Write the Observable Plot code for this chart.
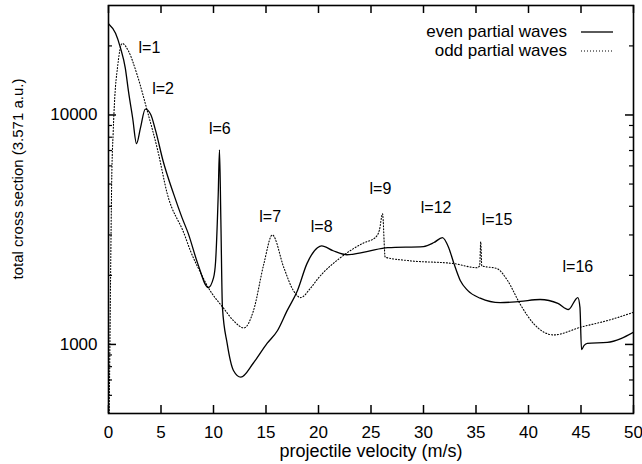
<!DOCTYPE html>
<html>
<head>
<meta charset="utf-8">
<script src="https://cdn.jsdelivr.net/npm/d3@7"></script>
<script src="https://cdn.jsdelivr.net/npm/@observablehq/plot@0.6"></script>
<style>
  html, body { margin: 0; padding: 0; background: #fff; }
  #wrap { position: relative; width: 642px; height: 464px; font-family: "Liberation Sans", Arial, Helvetica, sans-serif; }
  .leg { position: absolute; right: 75px; font-size: 17px; line-height: 20px; color: #000; white-space: nowrap; }
  #legsvg { position: absolute; left: 0; top: 0; pointer-events: none; }
  #ylab { position: absolute; left: 18px; top: 179px; font-size: 15px; line-height: 18px; white-space: nowrap; color: #000;
          transform: translate(-50%, -50%) rotate(-90deg); }
</style>
</head>
<body>
<div id="wrap"></div>
<script>
// ---- data ----
const evenX = [0, 0.67, 1.14, 1.6, 1.9, 2.3, 2.67, 3.05, 3.5, 4.0, 4.5, 5.2, 6.2, 7.0, 7.6, 8.5, 9.5, 10.0, 10.2, 10.45, 10.57, 10.7, 10.85, 11.3, 11.9, 12.6, 13.8, 15.1, 16.1, 17.0, 18.0, 18.9, 19.9, 20.3, 21.4, 22.7, 24.6, 26.6, 30.0, 31.0, 31.8, 32.4, 32.9, 33.5, 34.2, 35.4, 37.3, 39.2, 41.1, 42.8, 43.8, 44.7, 44.9, 45.05, 45.3, 45.6, 47.5, 48.8, 50];
const evenY = [25000, 22700, 19600, 16000, 12700, 9700, 7500, 8800, 10600, 10100, 8500, 6300, 4530, 3570, 3040, 2250, 1770, 1950, 2300, 4500, 7050, 3500, 1450, 1010, 770, 720, 830, 1010, 1150, 1400, 1720, 2250, 2640, 2690, 2560, 2460, 2540, 2640, 2670, 2780, 2920, 2640, 2250, 1900, 1720, 1590, 1520, 1540, 1570, 1510, 1420, 1600, 1450, 950, 990, 1010, 1020, 1060, 1130];

const oddX = [0, 0.1, 0.2, 0.3, 0.45, 0.6, 0.85, 1.3, 1.9, 2.7, 3.7, 4.7, 5.6, 7.2, 7.8, 8.8, 9.5, 11.0, 11.9, 12.9, 13.8, 14.8, 15.6, 16.7, 17.6, 18.3, 19.2, 20.0, 22.1, 24.3, 25.4, 25.8, 26.1, 26.35, 28.5, 32.9, 35.1, 35.35, 35.45, 35.55, 37.0, 38.0, 39.2, 40.5, 42.4, 45.0, 47.5, 50];
const oddY = [300, 700, 2000, 5000, 8500, 12000, 16000, 20500, 19000, 15100, 10400, 6970, 4530, 3040, 2560, 2040, 1770, 1430, 1270, 1180, 1400, 2250, 3000, 2160, 1720, 1600, 1750, 1950, 2390, 2770, 2920, 3150, 3710, 2400, 2320, 2250, 2160, 2200, 2800, 2200, 2140, 1900, 1500, 1230, 1100, 1190, 1270, 1380];

const labelText = ["l=1", "l=2", "l=6", "l=7", "l=8", "l=9", "l=12", "l=15", "l=16"];
const labelX = [3.9, 5.2, 10.6, 15.4, 20.3, 25.9, 31.2, 37.0, 44.7];
const labelY = [19550, 12970, 8690, 3600, 3260, 4770, 3940, 3490, 2180];

const xTicks = [0, 5, 10, 15, 20, 25, 30, 35, 40, 45, 50];
const yMajorTicks = [1000, 10000];
const yMinorTicks = [600, 700, 800, 900, 2000, 3000, 4000, 5000, 6000, 7000, 8000, 9000, 20000];

const seriesNames = ["even partial waves", "odd partial waves"];
const xLabel = "projectile velocity (m/s)";
const yLabel = "total cross section (3.571 a.u.)";

// ---- build tables ----
const even = evenX.map((x, i) => ({x, y: evenY[i]}));
const odd = oddX.map((x, i) => ({x, y: oddY[i]}));
const labels = labelText.map((t, i) => ({t, x: labelX[i], y: labelY[i]}));

const W = 642, H = 464, mL = 108, mR = 9, mT = 5, mB = 51;
const innerW = W - mL - mR, innerH = H - mT - mB;
const majorLen = 8, minorLen = 4;

const chart = Plot.plot({
  width: W, height: H,
  marginLeft: mL, marginRight: mR, marginTop: mT, marginBottom: mB,
  style: { fontFamily: "Liberation Sans, Arial, Helvetica, sans-serif", fontSize: "17px", background: "#fff", color: "#000" },
  x: { domain: [0, 50] },
  y: { type: "log", domain: [500, 30000] },
  marks: [
    Plot.axisX({ ticks: xTicks, tickSize: 0, tickPadding: 12, tickFormat: d => String(d), label: null, fontSize: 17 }),
    Plot.axisY({ ticks: yMajorTicks, tickSize: 0, tickPadding: 11, tickFormat: d => String(d), label: null, fontSize: 17 }),
    // inward ticks, bottom and top
    Plot.tickX(xTicks, { x: d => d, insetTop: innerH - majorLen, strokeWidth: 1.5 }),
    Plot.tickX(xTicks, { x: d => d, insetBottom: innerH - majorLen, strokeWidth: 1.5 }),
    // inward ticks, left and right
    Plot.tickY(yMajorTicks, { y: d => d, insetRight: innerW - majorLen, strokeWidth: 1.5 }),
    Plot.tickY(yMajorTicks, { y: d => d, insetLeft: innerW - majorLen, strokeWidth: 1.5 }),
    Plot.tickY(yMinorTicks, { y: d => d, insetRight: innerW - minorLen, strokeWidth: 1.2 }),
    Plot.tickY(yMinorTicks, { y: d => d, insetLeft: innerW - minorLen, strokeWidth: 1.2 }),
    Plot.line(even, { x: "x", y: "y", curve: "monotone-x", stroke: "#000", strokeWidth: 1.3, clip: true }),
    Plot.line(odd, { x: "x", y: "y", curve: "monotone-x", stroke: "#000", strokeWidth: 1.1, strokeDasharray: "1,2", clip: true }),
    Plot.frame({ stroke: "#000", strokeWidth: 1.6 }),
    Plot.text(labels, { x: "x", y: "y", text: "t", fontSize: 16, textAnchor: "middle", lineAnchor: "middle", fill: "#000" }),
    Plot.text([xLabel], { frameAnchor: "bottom", text: d => d, dy: 38, fontSize: 18, lineAnchor: "middle", fill: "#000" })
  ]
});

const wrap = document.getElementById("wrap");
wrap.appendChild(chart);

// y-axis title (rotated)
const yl = document.createElement("div");
yl.id = "ylab";
yl.textContent = yLabel;
wrap.appendChild(yl);

// legend (top-right, inside the frame)
const rowY = [32, 51];
const dashes = [null, "1,2"];
seriesNames.forEach((name, i) => {
  const d = document.createElement("div");
  d.className = "leg";
  d.style.top = (rowY[i] - 10) + "px";
  d.textContent = name;
  wrap.appendChild(d);
});
const ns = "http://www.w3.org/2000/svg";
const ls = document.createElementNS(ns, "svg");
ls.setAttribute("id", "legsvg");
ls.setAttribute("width", W);
ls.setAttribute("height", 80);
seriesNames.forEach((name, i) => {
  const l = document.createElementNS(ns, "line");
  l.setAttribute("x1", 581); l.setAttribute("x2", 613);
  l.setAttribute("y1", rowY[i]); l.setAttribute("y2", rowY[i]);
  l.setAttribute("stroke", "#000");
  l.setAttribute("stroke-width", i === 0 ? 1.3 : 1.1);
  if (dashes[i]) l.setAttribute("stroke-dasharray", dashes[i]);
  ls.appendChild(l);
});
wrap.appendChild(ls);
</script>
</body>
</html>
